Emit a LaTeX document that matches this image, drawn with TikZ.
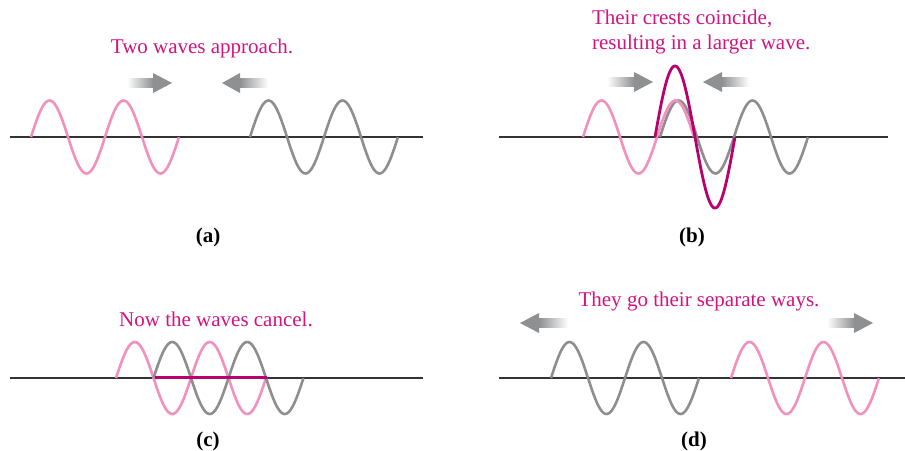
\documentclass[tikz,border=0pt]{standalone}
\usepackage{fontspec}
\setmainfont{Liberation Serif}
\usepackage{tikz}
\usetikzlibrary{positioning}
\definecolor{wavepink}{HTML}{F290BE}
\definecolor{wavegray}{HTML}{8E8E90}
\definecolor{wavemagenta}{HTML}{B8006E}
\definecolor{textmagenta}{HTML}{D4137E}
\definecolor{arrowgray}{HTML}{8F9092}
\definecolor{axisgray}{HTML}{333333}

% wave: style, start x, axis y, wavelength, periods, amplitude
\newcommand{\wavecurve}[6]{%
  \draw[#1] plot[domain=0:#5, samples=120, smooth] ({#2+#4*\x},{#3-#6*sin(360*\x)});}
% travel arrow: shading, tail x, head base x, tip x, y
\newcommand{\driftarrow}[5]{%
  \shade[#1] (#2,#5-4.5) rectangle (#3,#5+4.5);
  \fill[arrowgray] (#3,#5-10) -- (#4,#5) -- (#3,#5+10) -- cycle;}

\begin{document}
\begin{tikzpicture}[x=0.5pt, y=-0.5pt,
  axis/.style={draw=axisgray, line width=0.6pt},
  pinkwave/.style={wavepink, line width=1.3pt},
  graywave/.style={wavegray, line width=1.3pt},
  sumwave/.style={wavemagenta, line width=1.4pt},
  flatline/.style={wavemagenta, line width=1.5pt},
  toright/.style={left color=white, right color=arrowgray},
  toleft/.style={left color=arrowgray, right color=white},
  caption/.style={text=textmagenta, font=\fontsize{10.5}{12.5}\selectfont},
  tag/.style={font=\fontsize{10.5}{12.5}\selectfont\bfseries},
]
  \useasboundingbox (0,0) rectangle (905,450);

  % (a) two waves approach
  \draw[axis] (10,137) -- (423,137);
  \wavecurve{pinkwave}{31}{137}{74}{2}{36.5}
  \wavecurve{graywave}{250}{137}{74}{2}{36.5}
  \driftarrow{toright}{127}{153}{172}{83}
  \driftarrow{toleft}{268}{240}{222}{83}
  \node[caption] (capA) at (202,48) {Two waves approach.};
  \node[tag] (tagA) at (208,237) {(a)};

  % (b) crests coincide
  \draw[axis] (499,137) -- (888,137);
  \wavecurve{graywave}{660}{137}{74}{2}{36.5}
  \wavecurve{pinkwave}{583}{137}{74}{1.5}{36.5}
  \wavecurve{sumwave}{655}{137}{80}{1}{71}
  \driftarrow{toright}{607}{634}{653}{82}
  \driftarrow{toleft}{749}{722}{703}{82}
  \node[caption, align=left, anchor=west] (capB) at (585,32)
    {Their crests coincide,\\resulting in a larger wave.};
  \node[tag] (tagB) at (692,237) {(b)};

  % (c) waves cancel
  \draw[axis] (10,378) -- (423,378);
  \wavecurve{pinkwave}{116}{378}{75}{2}{36}
  \wavecurve{graywave}{153.5}{378}{75}{2}{36}
  \draw[flatline] (155,377.5) -- (267,377.5);
  \node[caption] (capC) at (216,319) {Now the waves cancel.};
  \node[tag] (tagC) at (208,441) {(c)};

  % (d) separate ways
  \draw[axis] (499,378) -- (905,378);
  \wavecurve{graywave}{551}{378}{74}{2}{36}
  \wavecurve{pinkwave}{731}{378}{74}{2}{36}
  \driftarrow{toleft}{568}{539}{520}{323}
  \driftarrow{toright}{827}{854}{873}{323}
  \node[caption] (capD) at (699,301) {They go their separate ways.};
  \node[tag] (tagD) at (694,441) {(d)};
\end{tikzpicture}
\end{document}
